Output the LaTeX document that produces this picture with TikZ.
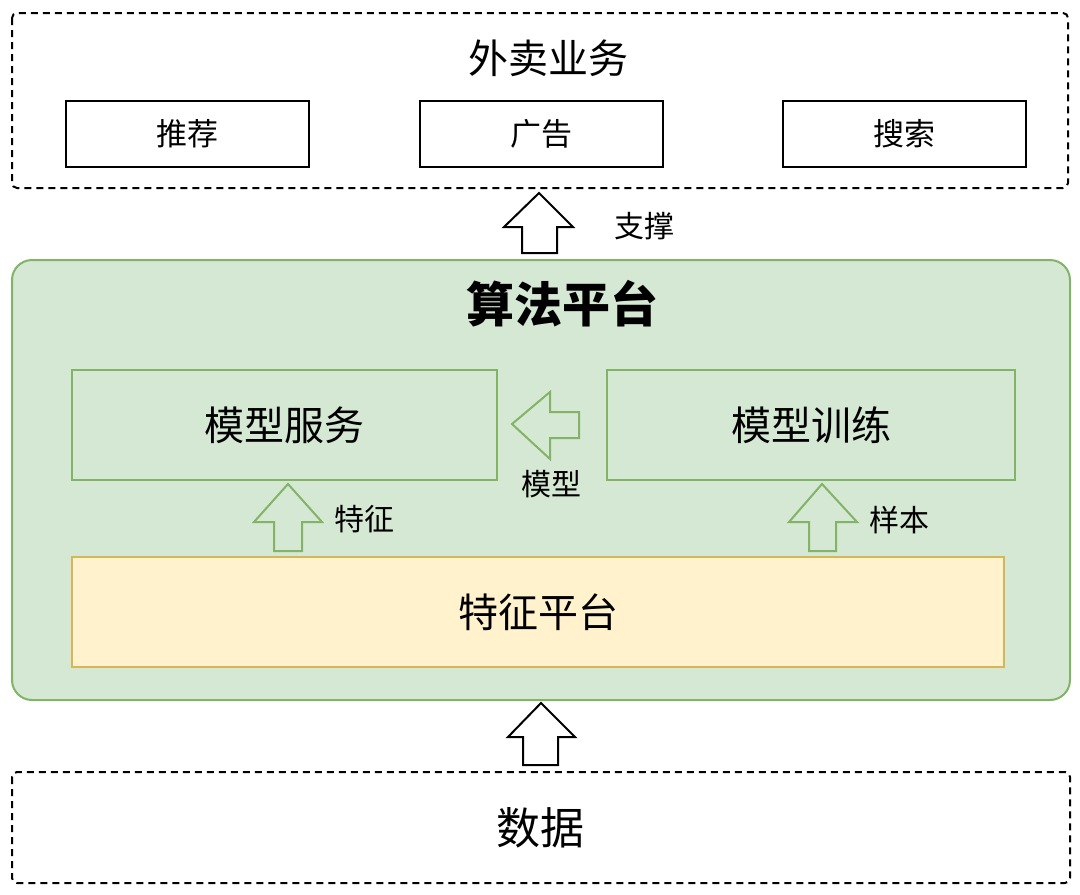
\documentclass[tikz,border=0pt]{standalone}
\usepackage{fontspec}
\setmainfont{Noto Sans CJK SC}
\definecolor{greenfill}{RGB}{213,232,212}
\definecolor{greenline}{RGB}{130,179,102}
\definecolor{yellowfill}{RGB}{255,242,204}
\definecolor{yellowline}{RGB}{214,182,86}
\tikzset{
  dashbox/.style={draw=black, line width=2pt, dash pattern={on 7pt off 5pt}, rounded corners=5pt},
  plainbox/.style={draw=black, line width=2pt, fill=white},
  greenbox/.style={draw=greenline, line width=2pt, fill=greenfill},
  blockarrow/.style={line width=2pt, line join=miter},
  lbl/.style={font=\fontsize{30pt}{34pt}\selectfont, inner sep=0pt},
  bigtxt/.style={font=\fontsize{40pt}{44pt}\selectfont}
}
\begin{document}
\begin{tikzpicture}[x=1pt,y=-1pt]
            \useasboundingbox (0,0) rectangle (1080,895);
            % business layer
            \draw [dashbox] (12,13) rectangle (1068,188);
            \node [lbl, bigtxt] (biz) at (548,58) {外卖业务};
            \draw [plainbox] (66,101) rectangle (309,167) node [midway, lbl, font=\fontsize{31pt}{34pt}\selectfont] (rec) {推荐};
            \draw [plainbox] (420,101) rectangle (663,167) node [midway, lbl, font=\fontsize{31pt}{34pt}\selectfont] (ads) {广告};
            \draw [plainbox] (783,101) rectangle (1026,167) node [midway, lbl, font=\fontsize{31pt}{34pt}\selectfont] (search) {搜索};
            % support arrow
            \draw [blockarrow, fill=white] (539,193) -- (573,227) -- (557,227) -- (557,253) -- (522,253) -- (522,227) -- (504,227) -- cycle ;
            \node [lbl] (support) at (644,226) {支撑};
            % algorithm platform
            \draw [draw=greenline, line width=2pt, fill=greenfill, rounded corners=20pt] (12,260) rectangle (1070,700);
            \node [lbl, font=\fontsize{48pt}{52pt}\selectfont\bfseries] (algo) at (562,304) {算法平台};
            \draw [greenbox] (72,370) rectangle (497,480) node [midway, lbl, bigtxt] (serve) {模型服务};
            \draw [greenbox] (607,370) rectangle (1015,480) node [midway, lbl, bigtxt] (train) {模型训练};
            \draw [blockarrow, draw=greenline, fill=greenfill] (512,424) -- (550,392) -- (550,412) -- (579,412) -- (579,438) -- (550,438) -- (550,459) -- cycle ;
            \node [lbl] (model) at (551,484) {模型};
            \draw [blockarrow, draw=greenline, fill=greenfill] (288,484) -- (322,522) -- (302,522) -- (302,551) -- (274,551) -- (274,522) -- (254,522) -- cycle ;
            \node [lbl] (feat) at (364,519) {特征};
            \draw [blockarrow, draw=greenline, fill=greenfill] (822,484) -- (857,522) -- (836,522) -- (836,551) -- (809,551) -- (809,522) -- (789,522) -- cycle ;
            \node [lbl] (sample) at (899,520) {样本};
            \draw [draw=yellowline, line width=2pt, fill=yellowfill] (72,557) rectangle (1004,667) node [midway, lbl, bigtxt] (fplat) {特征平台};
            % data arrow
            \draw [blockarrow, fill=white] (541,703) -- (575,737) -- (558,737) -- (558,765) -- (523,765) -- (523,737) -- (508,737) -- cycle ;
            % data layer
            \draw [dashbox] (12,772) rectangle (1070,883);
            \node [lbl, font=\fontsize{44pt}{48pt}\selectfont] (data) at (540,828) {数据};
\end{tikzpicture}
\end{document}
